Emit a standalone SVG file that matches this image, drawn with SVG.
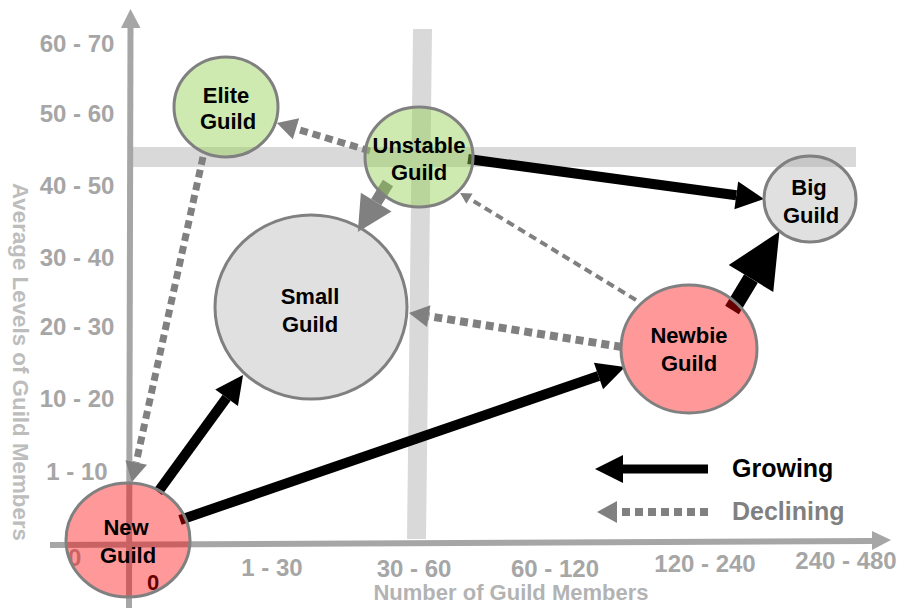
<svg xmlns="http://www.w3.org/2000/svg" width="901" height="608" viewBox="0 0 901 608">
<style>
.ax{font-family:"Liberation Sans",Arial,sans-serif;font-weight:bold;font-size:24px;fill:#a6a6a6;text-anchor:middle}
.ttl{font-family:"Liberation Sans",Arial,sans-serif;font-weight:bold;font-size:22px;fill:#b3b3b3}
.nt{font-family:"Liberation Sans",Arial,sans-serif;font-weight:bold;font-size:22px;fill:#000;text-anchor:middle}
.lg{font-family:"Liberation Sans",Arial,sans-serif;font-weight:bold;font-size:25px}
.node{stroke:#808080;stroke-width:3}
.red{fill:#ff0000;fill-opacity:0.4}
.green{fill:#92d050;fill-opacity:0.45}
.grey{fill:#a6a6a6;fill-opacity:0.35}
.grow{stroke:#000;fill:none}
.dec{stroke:#808080;fill:none;stroke-dasharray:8 5}
</style>
<defs>
<marker id="hb" markerUnits="userSpaceOnUse" markerWidth="28" markerHeight="28" refX="0" refY="14" orient="auto" overflow="visible"><path d="M0,0 L28,14 L0,28 z" fill="#000"/></marker>
<marker id="hbl" markerUnits="userSpaceOnUse" markerWidth="55" markerHeight="52" refX="0" refY="26" orient="auto" overflow="visible"><path d="M0,0 L55,26 L0,52 z" fill="#000"/></marker>
<marker id="hg" markerUnits="userSpaceOnUse" markerWidth="20" markerHeight="22" refX="0" refY="11" orient="auto" overflow="visible"><path d="M0,0 L20,11 L0,22 z" fill="#808080"/></marker>
<marker id="hgs" markerUnits="userSpaceOnUse" markerWidth="35" markerHeight="36" refX="0" refY="18" orient="auto" overflow="visible"><path d="M0,0 L35,18 L0,36 z" fill="#808080"/></marker>
<marker id="hgt" markerUnits="userSpaceOnUse" markerWidth="11" markerHeight="12" refX="0" refY="6" orient="auto" overflow="visible"><path d="M0,0 L11,6 L0,12 z" fill="#808080"/></marker>
</defs>

<g id="bands" fill="#d9d9d9">
<rect x="128" y="147" width="728" height="20"/>
<polygon points="413,29 432,29 426,539 407,539"/>
</g>

<g id="axes">
<line x1="130.5" y1="26" x2="129" y2="608" stroke="#a6a6a6" stroke-width="6"/>
<polygon points="130.5,9 140.5,28 121,28" fill="#a6a6a6"/>
<line x1="50" y1="545" x2="874" y2="541" stroke="#a6a6a6" stroke-width="6"/>
<polygon points="891,540 872,531 872,550" fill="#a6a6a6"/>
<text class="ax" x="77" y="52">60 - 70</text>
<text class="ax" x="77" y="122">50 - 60</text>
<text class="ax" x="77" y="194">40 - 50</text>
<text class="ax" x="77" y="266">30 - 40</text>
<text class="ax" x="77" y="335">20 - 30</text>
<text class="ax" x="77" y="407">10 - 20</text>
<text class="ax" x="77" y="480">1 - 10</text>
<text class="ax" x="272" y="576">1 - 30</text>
<text class="ax" x="414" y="577">30 - 60</text>
<text class="ax" x="555" y="577">60 - 120</text>
<text class="ax" x="705" y="572">120 - 240</text>
<text class="ax" x="846" y="569">240 - 480</text>
<text class="ax" x="68" y="566" style="text-anchor:start">0</text>
<text class="ax" x="147" y="590" style="text-anchor:start;fill:#000;font-size:22px">0</text>
<text class="ttl" x="511" y="600" text-anchor="middle">Number of Guild Members</text>
<text class="ttl" transform="translate(13,183) rotate(90)" x="0" y="0" textLength="358" lengthAdjust="spacingAndGlyphs" style="fill:#bdbdbd">Average Levels of Guild Members</text>
</g>

<g id="connectors">
<line class="grow" x1="158" y1="492" x2="226.6" y2="397.7" stroke-width="10" marker-end="url(#hb)"/>
<line class="grow" x1="180" y1="520" x2="598.5" y2="376" stroke-width="10" marker-end="url(#hb)"/>
<line class="grow" x1="468" y1="159" x2="736.3" y2="195.3" stroke-width="10" marker-end="url(#hb)"/>
<line class="grow" x1="732" y1="310" x2="751" y2="278.5" stroke-width="16" marker-end="url(#hbl)"/>
<line x1="388" y1="183" x2="376.2" y2="202.1" stroke="#808080" stroke-width="12" marker-end="url(#hgs)"/>
<line class="dec" x1="370" y1="151" x2="296" y2="128.8" stroke-width="7" marker-end="url(#hg)"/>
<line class="dec" x1="203" y1="157" x2="136.2" y2="462.5" stroke-width="7" marker-end="url(#hg)"/>
<line class="dec" x1="636" y1="300" x2="469.5" y2="198.6" stroke-width="4" stroke-dasharray="3.5 5" marker-end="url(#hgt)"/>
<line class="dec" x1="622" y1="347" x2="428.7" y2="316.2" stroke-width="8" marker-end="url(#hg)"/>
</g>

<g id="elite">
<ellipse class="node green" cx="226" cy="107" rx="52" ry="50"/>
<text class="nt" x="226" y="103">Elite</text>
<text class="nt" x="228" y="129">Guild</text>
</g>
<g id="unstable">
<ellipse class="node green" cx="419" cy="157" rx="54" ry="50"/>
<text class="nt" x="419" y="153">Unstable</text>
<text class="nt" x="419" y="180">Guild</text>
</g>
<g id="big">
<ellipse class="node grey" cx="810" cy="199" rx="46" ry="43"/>
<text class="nt" x="809" y="195">Big</text>
<text class="nt" x="811" y="223">Guild</text>
</g>
<g id="small">
<ellipse class="node grey" cx="311" cy="307" rx="96" ry="92"/>
<text class="nt" x="310" y="304">Small</text>
<text class="nt" x="310" y="332">Guild</text>
</g>
<g id="newbie">
<ellipse class="node red" cx="689" cy="349" rx="68" ry="64"/>
<text class="nt" x="689" y="343">Newbie</text>
<text class="nt" x="689" y="371">Guild</text>
</g>
<g id="new">
<ellipse class="node red" cx="128" cy="540" rx="62" ry="57"/>
<text class="nt" x="126" y="535">New</text>
<text class="nt" x="128" y="563">Guild</text>
</g>

<g id="legend">
<line class="grow" x1="708" y1="469" x2="623" y2="469" stroke-width="9" marker-end="url(#hb)"/>
<line class="dec" x1="708" y1="512" x2="617" y2="512" stroke-width="8" marker-end="url(#hg)"/>
<text class="lg" x="732" y="477" fill="#000">Growing</text>
<text class="lg" x="732" y="520" fill="#808080">Declining</text>
</g>
</svg>
